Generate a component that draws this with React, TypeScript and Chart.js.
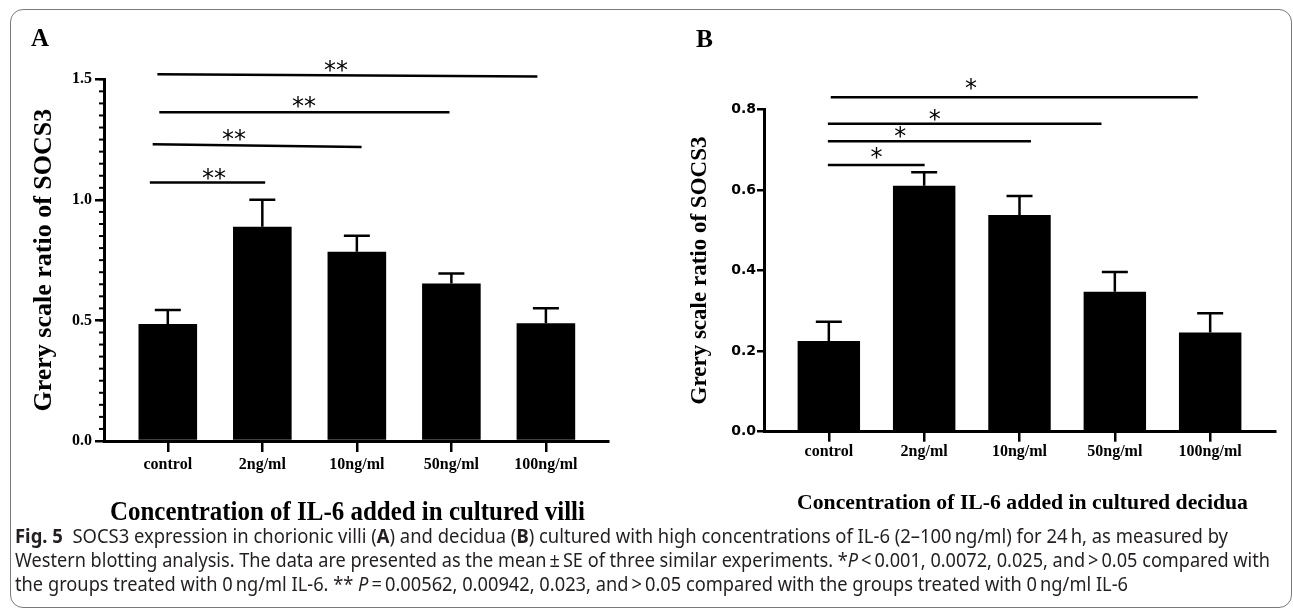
import React, { useEffect, useLayoutEffect, useRef } from 'react';
import { Chart, registerables } from 'chart.js';

Chart.register(...registerables);

// ---------------- data ----------------
const categories = ['control', '2ng/ml', '10ng/ml', '50ng/ml', '100ng/ml'];

// Panel A – chorionic villi
const meansA = [0.485, 0.888, 0.785, 0.653, 0.488];
const seA = [0.058, 0.112, 0.066, 0.042, 0.063];
const yTicksA = [0, 0.5, 1.0, 1.5];
const yMinorStepA = 0.05;
const sigFromA = [-0.19, -0.16, -0.09, -0.11];
const sigToA = [1.03, 2.05, 2.98, 3.91];
const sigLevelFromA = [1.072, 1.231, 1.363, 1.521];
const sigLevelToA = [1.072, 1.219, 1.363, 1.512];
const sigMarkA = ['**', '**', '**', '**'];
const sigMarkXA = [0.49, 0.7, 1.44, 1.78];
const sigMarkLevelA = [1.114, 1.276, 1.413, 1.562];

// Panel B – decidua
const meansB = [0.225, 0.61, 0.538, 0.347, 0.246];
const seB = [0.048, 0.034, 0.047, 0.049, 0.048];
const yTicksB = [0, 0.2, 0.4, 0.6, 0.8];
const sigFromB = [-0.01, -0.01, -0.01, 0.02];
const sigToB = [1.005, 2.12, 2.86, 3.87];
const sigLevelFromB = [0.662, 0.721, 0.764, 0.83];
const sigLevelToB = [0.662, 0.721, 0.764, 0.83];
const sigMarkB = ['*', '*', '*', '*'];
const sigMarkXB = [0.5, 0.75, 1.11, 1.49];
const sigMarkLevelB = [0.695, 0.749, 0.79, 0.868];

const yTitle = 'Grery scale ratio of SOCS3';
const xTitleA = 'Concentration of IL-6 added in cultured villi';
const xTitleB = 'Concentration of IL-6 added in cultured decidua';

// ---------------- layout / style ----------------
const W = 1293;
const H = 611;
const SERIF = '"Liberation Serif", "Times New Roman", serif';

const panelA = {
  key: 'A',
  means: meansA, se: seA, yTicks: yTicksA, minorStep: yMinorStepA, yMax: 1.5,
  sigFrom: sigFromA, sigTo: sigToA, sigLevelFrom: sigLevelFromA, sigLevelTo: sigLevelToA,
  sigMark: sigMarkA, sigMarkX: sigMarkXA, sigMarkLevel: sigMarkLevelA,
  padding: { left: 0, right: 685, top: 79.3, bottom: 110 },
  yWidth: 104, xHeight: 60, xMin: -0.675, xMax: 4.657, barPct: 0.62,
  yTickLen: 9, yTickPad: 3, yTickFont: { family: SERIF, weight: 'bold', size: 16 },
  xTickLen: 11, xTickPad: 3.4,
  yTitleSize: 26, yTitlePad: 28.4,
  capWidth: 26, errWidth: 2.5, sigWidth: 2.5, starSize: 24, minorLen: 5,
};

const panelB = {
  key: 'B',
  means: meansB, se: seB, yTicks: yTicksB, minorStep: 0, yMax: 0.8,
  sigFrom: sigFromB, sigTo: sigToB, sigLevelFrom: sigLevelFromB, sigLevelTo: sigLevelToB,
  sigMark: sigMarkB, sigMarkX: sigMarkXB, sigMarkLevel: sigMarkLevelB,
  padding: { left: 680, right: 18, top: 109.3, bottom: 119.3 },
  yWidth: 84, xHeight: 60, xMin: -0.68, xMax: 4.68, barPct: 0.655,
  yTickLen: 7, yTickPad: 1, yTickFont: { family: '"DejaVu Sans", sans-serif', weight: 'bold', size: 14 },
  xTickLen: 10, xTickPad: 0.4,
  yTitleSize: 23, yTitlePad: 6.2,
  capWidth: 26, errWidth: 2.5, sigWidth: 2.5, starSize: 24, minorLen: 0,
};

type Panel = typeof panelA;

function makeOverlay(p: Panel) {
  return {
    id: 'overlay' + p.key,
    afterDatasetsDraw(chart: any) {
      const ctx = chart.ctx as CanvasRenderingContext2D;
      const xs = chart.scales.x;
      const ys = chart.scales.y;
      ctx.save();
      ctx.strokeStyle = '#000';
      ctx.fillStyle = '#000';
      ctx.lineCap = 'butt';

      // minor ticks on the y axis
      if (p.minorStep > 0) {
        ctx.lineWidth = 2;
        const x0 = chart.chartArea.left;
        const n = Math.round(p.yMax / p.minorStep);
        for (let i = 0; i <= n; i++) {
          const y = ys.getPixelForValue(i * p.minorStep);
          ctx.beginPath();
          ctx.moveTo(x0 - p.minorLen, y);
          ctx.lineTo(x0, y);
          ctx.stroke();
        }
      }

      // error bars (upper only)
      ctx.lineWidth = p.errWidth;
      const meta = chart.getDatasetMeta(0);
      meta.data.forEach((bar: any, i: number) => {
        const x = bar.x;
        const yTop = ys.getPixelForValue(p.means[i]);
        const yErr = ys.getPixelForValue(p.means[i] + p.se[i]);
        ctx.beginPath();
        ctx.moveTo(x, yTop);
        ctx.lineTo(x, yErr);
        ctx.moveTo(x - p.capWidth / 2, yErr);
        ctx.lineTo(x + p.capWidth / 2, yErr);
        ctx.stroke();
      });

      // significance bars
      ctx.lineWidth = p.sigWidth;
      ctx.font = `${p.starSize}px "DejaVu Sans", sans-serif`;
      ctx.textAlign = 'center';
      ctx.textBaseline = 'alphabetic';
      p.sigFrom.forEach((from, i) => {
        ctx.beginPath();
        ctx.moveTo(xs.getPixelForValue(from), ys.getPixelForValue(p.sigLevelFrom[i]));
        ctx.lineTo(xs.getPixelForValue(p.sigTo[i]), ys.getPixelForValue(p.sigLevelTo[i]));
        ctx.stroke();
        const sx = xs.getPixelForValue(p.sigMarkX[i]);
        const sy = ys.getPixelForValue(p.sigMarkLevel[i]) + 0.57 * p.starSize;
        ctx.fillText(p.sigMark[i], sx, sy);
      });
      ctx.restore();
    },
  };
}

function makeConfig(p: Panel): any {
  return {
    type: 'bar',
    data: {
      datasets: [
        {
          data: p.means.map((v, i) => ({ x: i, y: v })),
          backgroundColor: '#000',
          borderWidth: 0,
          barPercentage: p.barPct,
          categoryPercentage: 1,
        },
      ],
    },
    options: {
      animation: false,
      responsive: false,
      maintainAspectRatio: false,
      events: [],
      layout: { padding: p.padding },
      plugins: { legend: { display: false }, tooltip: { enabled: false }, title: { display: false } },
      scales: {
        x: {
          type: 'linear',
          min: p.xMin,
          max: p.xMax,
          bounds: 'data',
          offset: false,
          afterBuildTicks: (s: any) => {
            s.ticks = categories.map((_, i) => ({ value: i }));
          },
          afterFit: (s: any) => {
            s.height = p.xHeight;
          },
          grid: {
            display: true,
            drawOnChartArea: false,
            drawTicks: true,
            tickLength: p.xTickLen,
            lineWidth: 2.5,
            color: '#000',
            offset: false,
          },
          border: { display: true, color: '#000', width: 3 },
          ticks: {
            autoSkip: false,
            maxRotation: 0,
            minRotation: 0,
            padding: p.xTickPad,
            color: '#000',
            font: { family: SERIF, weight: 'bold', size: 16 },
            callback: (v: number) => categories[Math.round(v)] ?? '',
          },
        },
        y: {
          min: 0,
          max: p.yMax,
          afterBuildTicks: (s: any) => {
            s.ticks = p.yTicks.map((v) => ({ value: v }));
          },
          afterFit: (s: any) => {
            s.width = p.yWidth;
          },
          grid: {
            display: true,
            drawOnChartArea: false,
            drawTicks: true,
            tickLength: p.yTickLen,
            lineWidth: 2.5,
            color: '#000',
          },
          border: { display: true, color: '#000', width: 3 },
          ticks: {
            autoSkip: false,
            padding: p.yTickPad,
            color: '#000',
            font: p.yTickFont,
            callback: (v: number) => Number(v).toFixed(1),
          },
          title: {
            display: true,
            text: yTitle,
            color: '#000',
            font: { family: SERIF, weight: 'bold', size: p.yTitleSize },
            padding: { top: p.yTitlePad, bottom: 0 },
          },
        },
      },
    },
    plugins: [makeOverlay(p)],
  };
}

// ---------------- text helpers ----------------
function FitText(props: { left: number; cy: number; width: number; font: string; color?: string; children: any }) {
  const ref = useRef<HTMLDivElement>(null);
  useLayoutEffect(() => {
    const el = ref.current!;
    el.style.transform = 'translateY(-50%)';
    const natural = el.getBoundingClientRect().width;
    el.style.transform = `translateY(-50%) scaleX(${props.width / natural})`;
  }, []);
  return (
    <div
      ref={ref}
      style={{
        position: 'absolute',
        left: props.left,
        top: props.cy,
        whiteSpace: 'nowrap',
        font: props.font,
        lineHeight: 1,
        color: props.color ?? '#000',
        transformOrigin: 'left center',
      }}
    >
      {props.children}
    </div>
  );
}

const CAPTION_LEFT = 15;
const CAPTION_WIDTHS = [1213, 1255, 1113];
const CAPTION_Y = [536, 560, 584];
const CAPTION_FONT = '19px "Noto Sans", "Open Sans", sans-serif';
const T = '\u2009';

function Caption() {
  const r0 = useRef<HTMLDivElement>(null);
  const r1 = useRef<HTMLDivElement>(null);
  const r2 = useRef<HTMLDivElement>(null);
  useLayoutEffect(() => {
    const els = [r0.current!, r1.current!, r2.current!];
    els.forEach((el, i) => {
      el.style.transform = 'translateY(-50%)';
      const s = CAPTION_WIDTHS[i] / el.getBoundingClientRect().width;
      el.style.transform = `translateY(-50%) scaleX(${s})`;
    });
  }, []);
  const st = (cy: number): React.CSSProperties => ({
    position: 'absolute',
    left: CAPTION_LEFT,
    top: cy,
    whiteSpace: 'nowrap',
    font: CAPTION_FONT,
    lineHeight: 1,
    color: '#231f20',
    transformOrigin: 'left center',
  });
  return (
    <>
      <div ref={r0} style={st(CAPTION_Y[0])}>
        <b>Fig. 5</b>
        {'\u00a0\u00a0'}SOCS3 expression in chorionic villi (<b>A</b>) and decidua (<b>B</b>) cultured with high concentrations of IL-6 (2–100{T}ng/ml) for 24{T}h, as measured by
      </div>
      <div ref={r1} style={st(CAPTION_Y[1])}>
        Western blotting analysis. The data are presented as the mean{T}±{T}SE of three similar experiments. *<i>P</i>{T}&lt;{T}0.001, 0.0072, 0.025, and{T}&gt;{T}0.05 compared with
      </div>
      <div ref={r2} style={st(CAPTION_Y[2])}>
        the groups treated with 0{T}ng/ml IL-6. ** <i>P</i>{T}={T}0.00562, 0.00942, 0.023, and{T}&gt;{T}0.05 compared with the groups treated with 0{T}ng/ml IL-6
      </div>
    </>
  );
}

export default function App() {
  const refA = useRef<HTMLCanvasElement>(null);
  const refB = useRef<HTMLCanvasElement>(null);

  useEffect(() => {
    const a = new Chart(refA.current!, makeConfig(panelA));
    const b = new Chart(refB.current!, makeConfig(panelB));
    return () => {
      a.destroy();
      b.destroy();
    };
  }, []);

  const canvasStyle: React.CSSProperties = { position: 'absolute', left: 0, top: 0, width: W, height: H };

  return (
    <div style={{ position: 'absolute', left: 0, top: 0, width: W, height: H, background: '#fff', overflow: 'hidden' }}>
      <div
        style={{
          position: 'absolute',
          left: 10,
          top: 9,
          width: 1282,
          height: 599,
          border: '1.5px solid #7a7a7a',
          borderRadius: 13,
          boxSizing: 'border-box',
        }}
      />
      <canvas ref={refA} width={W} height={H} style={canvasStyle} />
      <canvas ref={refB} width={W} height={H} style={canvasStyle} />
      <FitText left={31} cy={36.5} width={18} font={`bold 25px ${SERIF}`}>A</FitText>
      <FitText left={696} cy={37.5} width={17} font={`bold 25px ${SERIF}`}>B</FitText>
      <FitText left={110} cy={511} width={475} font={`bold 28px ${SERIF}`}>{xTitleA}</FitText>
      <FitText left={797} cy={502} width={451} font={`bold 21px ${SERIF}`}>{xTitleB}</FitText>
      <Caption />
    </div>
  );
}
